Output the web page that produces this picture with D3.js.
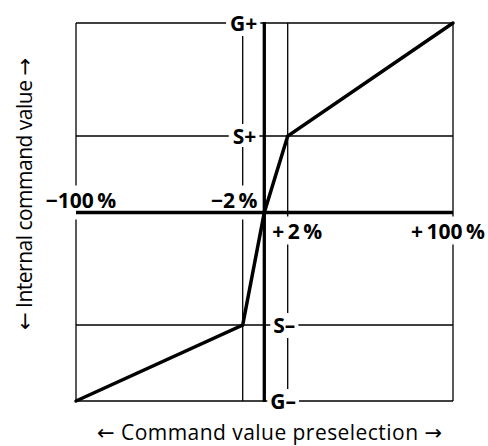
<!DOCTYPE html>
<html>
<head>
<meta charset="utf-8">
<script src="https://cdn.jsdelivr.net/npm/d3@7"></script>
<style>
  html, body { margin: 0; padding: 0; background: #fff; }
  svg { display: block; }
</style>
</head>
<body>
<svg id="chart" width="488" height="446"></svg>
<script>
// ---- data ----
// x: command value preselection (%), schematic breakpoints
const xBreaks = [-100, -2, 0, 2, 100];
// y: internal command value (G = max, S = step), schematic values
const G = 100, S = 40;
const yBreaks = [-G, -S, 0, S, G];
// characteristic curve points
const curveX = [-100, -2, 0, 2, 100];
const curveY = [-G, -S, 0, S, G];
// labels
const xTickLabels = ["\u2212100\u2009%", "\u22122\u2009%", "+\u20092\u2009%", "+\u2009100\u2009%"];
const yTickLabels = ["G+", "S+", "S\u2013", "G\u2013"];
const xTitle = ["\u2190", " Command value preselection ", "\u2192"];
const yTitle = ["\u2190", " Internal command value ", "\u2192"];

// ---- scales (schematic, piecewise linear) ----
const x = d3.scaleLinear().domain(xBreaks).range([76, 242.7, 264.3, 287.7, 453]);
const y = d3.scaleLinear().domain(yBreaks).range([401, 325, 212.5, 136, 23]);

const svg = d3.select("#chart");
const FONT = "'Open Sans', 'Noto Sans', sans-serif";
const ARROWFONT = "'DejaVu Sans', sans-serif";

const thin = svg.append("g").attr("stroke", "#000").attr("stroke-width", 1.3).attr("fill", "none");
// verticals: border and ±2 %
[-100, -2, 2, 100].forEach(v => {
  thin.append("line").attr("x1", x(v)).attr("x2", x(v)).attr("y1", y(G)).attr("y2", y(-G));
});
// horizontals: border and ±S
[G, S, -S, -G].forEach(v => {
  thin.append("line").attr("x1", x(-100)).attr("x2", x(100)).attr("y1", y(v)).attr("y2", y(v));
});

// ---- labels with white background boxes ----
const labels = svg.append("g").attr("font-family", FONT).attr("font-weight", 700)
  .attr("font-size", 21).attr("fill", "#000");

function label(txt, px, py, anchor, baseline, pad) {
  const g = labels.append("g");
  const t = g.append("text").attr("x", px).attr("y", py)
    .attr("text-anchor", anchor).attr("dominant-baseline", baseline).text(txt);
  const b = t.node().getBBox();
  const p = pad || [3, 3, 0, 0];
  g.insert("rect", "text").attr("x", b.x - p[0]).attr("y", b.y - p[2])
    .attr("width", b.width + p[0] + p[1]).attr("height", b.height + p[2] + p[3])
    .attr("fill", "#fff");
}

// y labels (left/right of zero axis)
label(yTickLabels[0], x(0) - 7, y(G), "end", "central", [4, 3, -1, -1]);
label(yTickLabels[1], x(0) - 8, y(S), "end", "central", [4, 3, -2, -3]);
label(yTickLabels[2], x(0) + 9, y(-S), "start", "central", [3, 3, -2, -1]);
label(yTickLabels[3], x(0) + 6, y(-G), "start", "central", [3, 3, -2, -1]);
// x labels
label(xTickLabels[0], x(-100) + 5, y(0) - 5, "middle", "alphabetic", [3, 3, 0, 6]);
label(xTickLabels[1], x(0) - 7, y(0) - 5, "end", "alphabetic", [3, 3, 0, 6]);
label(xTickLabels[2], x(0) + 8, y(0) + 26, "start", "alphabetic", [3, 3, 0, 0]);
label(xTickLabels[3], x(100) - 5, y(0) + 26, "middle", "alphabetic", [3, 3, 0, 0]);

// ---- thick axes ----
const thick = svg.append("g").attr("stroke", "#000").attr("stroke-width", 3.3);
thick.append("line").attr("x1", x(0)).attr("x2", x(0)).attr("y1", y(G) - 1).attr("y2", y(-G) + 1);
thick.append("line").attr("x1", x(-100)).attr("x2", x(100)).attr("y1", y(0)).attr("y2", y(0));

// ---- curve ----
const pts = curveX.map((v, i) => [v, curveY[i]]);
svg.append("path").datum(pts)
  .attr("d", d3.line().x(d => x(d[0])).y(d => y(d[1])))
  .attr("fill", "none").attr("stroke", "#000").attr("stroke-width", 3.5)
  .attr("stroke-linejoin", "miter").attr("stroke-linecap", "round");

// ---- axis titles ----
function title(sel, parts, len) {
  sel.attr("font-family", FONT).attr("font-weight", 400).attr("font-size", 21)
    .attr("text-anchor", "middle").attr("textLength", len).attr("lengthAdjust", "spacing");
  parts.forEach((p, i) => {
    const ts = sel.append("tspan").text(p);
    if (i !== 1) ts.attr("font-family", ARROWFONT).attr("font-size", 21);
  });
}
title(svg.append("text").attr("x", 269.5).attr("y", 440), xTitle, 345);
title(svg.append("text").attr("transform", "translate(32,194) rotate(-90)"), yTitle, 272);
</script>
</body>
</html>
